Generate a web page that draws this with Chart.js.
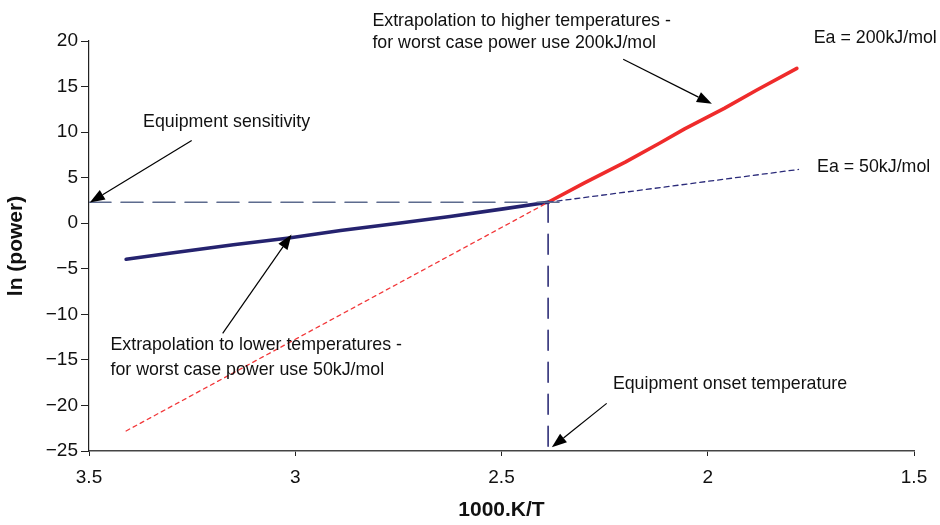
<!DOCTYPE html>
<html>
<head>
<meta charset="utf-8">
<script src="https://cdn.jsdelivr.net/npm/chart.js@4"></script>
<style>
  html, body { margin: 0; padding: 0; background: #ffffff; }
  #wrap { width: 940px; height: 525px; position: relative; }
</style>
</head>
<body>
<div id="wrap"><canvas id="c" width="940" height="525"></canvas></div>
<script>
// ---- data ----
const measuredX = [3.41, 3.3, 3.15, 3.02, 2.89, 2.75, 2.625, 2.5, 2.387];
const measuredY = [-3.95, -3.27, -2.37, -1.64, -0.8, 0.0, 0.73, 1.55, 2.3];

const ea200HighX = [2.387, 2.3, 2.2, 2.116, 2.056, 1.96, 1.882, 1.784];
const ea200HighY = [2.3, 4.4, 6.7, 8.8, 10.35, 12.6, 14.6, 17.0];

const ea50HighX = [2.387, 1.78];
const ea50HighY = [2.3, 5.9];

const ea200LowX = [3.41, 2.387];
const ea200LowY = [-22.8, 2.3];

const sensitivityX = [3.5, 2.35];
const sensitivityY = [2.3, 2.3];

const onsetX = [2.387, 2.387];
const onsetY = [2.3, -25];

const xTicks = [3.5, 3, 2.5, 2, 1.5];
const yTicks = [-25, -20, -15, -10, -5, 0, 5, 10, 15, 20];

// annotations (anchors in data units)
const labelTexts = [
  ["Extrapolation to higher temperatures -", "for worst case power use 200kJ/mol"],
  ["Ea = 200kJ/mol"],
  ["Ea = 50kJ/mol"],
  ["Equipment sensitivity"],
  ["Extrapolation to lower temperatures -", "for worst case power use 50kJ/mol"],
  ["Equipment onset temperature"]
];
const labelX = [2.813, 1.743, 1.735, 3.369, 3.448, 2.23];
const labelY = [22.19, 20.3, 6.14, 11.07, -13.33, -17.69];
const labelLineStep = [-2.40, 0, 0, 0, -2.74, 0];

const arrowFromX = [2.205, 3.251, 3.176, 2.245];
const arrowFromY = [18.0, 9.07, -12.09, -19.77];
const arrowToX = [1.99, 3.498, 3.009, 2.378];
const arrowToY = [13.1, 2.27, -1.24, -24.6];

function pts(xs, ys) { return xs.map((x, i) => ({ x: x, y: ys[i] })); }

const FONT = "'Liberation Sans', Arial, Helvetica, sans-serif";

const annotationPlugin = {
  id: 'annotations',
  afterDatasetsDraw(chart) {
    const ctx = chart.ctx;
    const xs = chart.scales.x, ys = chart.scales.y;
    ctx.save();
    // arrows
    for (let i = 0; i < arrowFromX.length; i++) {
      const x1 = xs.getPixelForValue(arrowFromX[i]);
      const y1 = ys.getPixelForValue(arrowFromY[i]);
      const x2 = xs.getPixelForValue(arrowToX[i]);
      const y2 = ys.getPixelForValue(arrowToY[i]);
      const ang = Math.atan2(y2 - y1, x2 - x1);
      const headLen = 15, headW = 5.5;
      const bx = x2 - headLen * Math.cos(ang), by = y2 - headLen * Math.sin(ang);
      ctx.strokeStyle = '#000';
      ctx.lineWidth = 1.2;
      ctx.beginPath();
      ctx.moveTo(x1, y1);
      ctx.lineTo(bx, by);
      ctx.stroke();
      ctx.fillStyle = '#000';
      ctx.beginPath();
      ctx.moveTo(x2, y2);
      ctx.lineTo(bx + headW * Math.sin(ang), by - headW * Math.cos(ang));
      ctx.lineTo(bx - headW * Math.sin(ang), by + headW * Math.cos(ang));
      ctx.closePath();
      ctx.fill();
    }
    // texts
    ctx.fillStyle = '#111';
    ctx.font = '17.8px ' + FONT;
    ctx.textAlign = 'left';
    ctx.textBaseline = 'middle';
    for (let i = 0; i < labelTexts.length; i++) {
      const px = xs.getPixelForValue(labelX[i]);
      labelTexts[i].forEach((t, j) => {
        const py = ys.getPixelForValue(labelY[i] + j * labelLineStep[i]);
        ctx.fillText(t, px, py);
      });
    }
    ctx.restore();
  }
};

const lineDs = (label, data, color, width, dash) => ({
  label: label,
  data: data,
  showLine: true,
  borderColor: color,
  backgroundColor: color,
  borderWidth: width,
  borderDash: dash,
  pointRadius: 0,
  pointHoverRadius: 0,
  fill: false,
  tension: 0,
  borderCapStyle: 'round',
  borderJoinStyle: 'round'
});

new Chart(document.getElementById('c'), {
  type: 'scatter',
  data: {
    datasets: [
      lineDs('Equipment sensitivity', pts(sensitivityX, sensitivityY), '#5d6b8e', 1.6, [22, 10]),
      lineDs('Onset', pts(onsetX, onsetY), '#2e2e78', 1.6, [20, 12]),
      lineDs('Ea 200 low', pts(ea200LowX, ea200LowY), '#f2383a', 1.3, [4, 4]),
      lineDs('Ea 50 high', pts(ea50HighX, ea50HighY), '#2b2b7a', 1.3, [5, 4]),
      lineDs('Measured', pts(measuredX, measuredY), '#25236f', 3.6, []),
      lineDs('Ea 200 high', pts(ea200HighX, ea200HighY), '#ef2b2b', 3.6, [])
    ]
  },
  options: {
    responsive: false,
    animation: false,
    events: [],
    layout: { padding: { top: 41, right: 26, left: 0, bottom: 0 } },
    plugins: { legend: { display: false }, tooltip: { enabled: false }, title: { display: false } },
    scales: {
      x: {
        type: 'linear',
        reverse: true,
        min: 1.5,
        max: 3.5,
        afterBuildTicks(scale) { scale.ticks = xTicks.map(v => ({ value: v })); },
        afterFit(scale) { scale.height = 74; },
        ticks: {
          font: { family: FONT, size: 19 },
          color: '#111',
          padding: 10,
          maxRotation: 0,
          callback: v => String(v)
        },
        grid: { drawOnChartArea: false, drawTicks: true, tickLength: 5, color: '#222', lineWidth: 1 },
        border: { display: true, color: '#444', width: 1.6 },
        title: {
          display: true,
          text: '1000.K/T',
          color: '#111',
          font: { family: FONT, size: 21, weight: 'bold' },
          padding: { top: 0, bottom: 2 }
        }
      },
      y: {
        type: 'linear',
        min: -25,
        max: 20,
        afterBuildTicks(scale) { scale.ticks = yTicks.map(v => ({ value: v })); },
        afterFit(scale) { scale.width = 89; },
        ticks: {
          font: { family: FONT, size: 19 },
          color: '#111',
          padding: 3,
          callback: v => String(v).replace('-', '\u2212')
        },
        grid: { drawOnChartArea: false, drawTicks: true, tickLength: 8, color: '#222', lineWidth: 1 },
        border: { display: true, color: '#222', width: 1.2 },
        title: {
          display: true,
          text: 'ln (power)',
          color: '#111',
          font: { family: FONT, size: 21, weight: 'bold' },
          padding: { top: 4, bottom: 0 }
        }
      }
    }
  },
  plugins: [annotationPlugin]
});
</script>
</body>
</html>
